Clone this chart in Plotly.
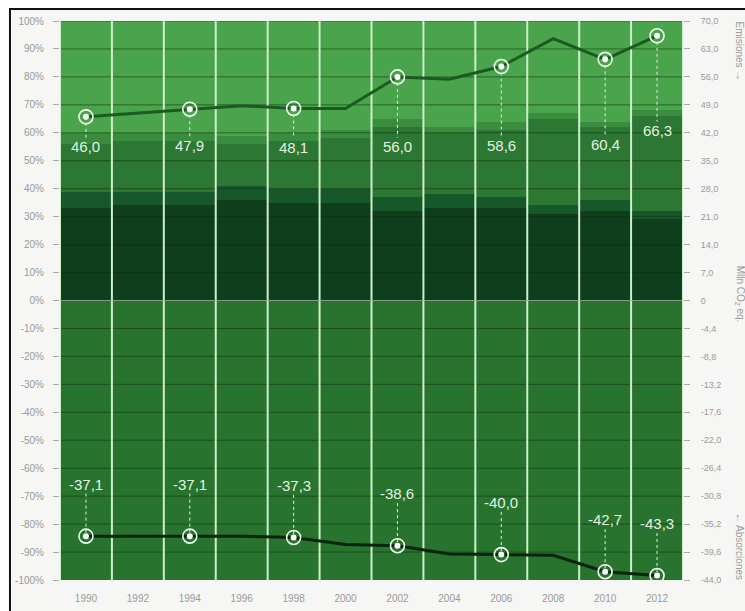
import plotly.graph_objects as go

# ---------------- data ----------------
YEARS = [1990, 1992, 1994, 1996, 1998, 2000, 2002, 2004, 2006, 2008, 2010, 2012]

# shares of emissions (percent, stacked bottom -> top)
SHARE_DARKEST = [33, 34, 34, 36, 35, 35, 32, 33, 33, 31, 32, 29]
SHARE_DARK    = [6, 5, 5, 5, 5, 5, 5, 5, 4, 3, 4, 3]
SHARE_MEDIUM  = [17, 18, 18, 15, 17, 18, 25, 22, 24, 31, 26, 34]
SHARE_MLIGHT  = [4, 3, 3, 3, 3, 3, 3, 2, 3, 2, 2, 2]
SHARE_LIGHT   = [40, 40, 40, 41, 40, 39, 35, 38, 36, 33, 36, 32]
ABSORB_SHARE  = [-100] * 12

# emissions / absorptions (Mlln CO2 eq.)
EMISSIONS   = [46.0, 46.9, 47.9, 48.8, 48.1, 48.1, 56.0, 55.4, 58.6, 65.6, 60.4, 66.3]
ABSORPTIONS = [-37.1, -37.1, -37.1, -37.1, -37.3, -38.4, -38.6, -39.9, -40.0, -40.1, -42.7, -43.3]

LABEL_YEARS = [1990, 1994, 1998, 2002, 2006, 2010, 2012]
EMI_LABELS  = ["46,0", "47,9", "48,1", "56,0", "58,6", "60,4", "66,3"]
ABS_LABELS  = ["-37,1", "-37,1", "-37,3", "-38,6", "-40,0", "-42,7", "-43,3"]

PCT_TOP = [0, 10, 20, 30, 40, 50, 60, 70, 80, 90, 100]
PCT_TOP_TXT = ["0%", "10%", "20%", "30%", "40%", "50%", "60%", "70%", "80%", "90%", "100%"]
PCT_BOT = [-100, -90, -80, -70, -60, -50, -40, -30, -20, -10]
PCT_BOT_TXT = ["-100%", "-90%", "-80%", "-70%", "-60%", "-50%", "-40%", "-30%", "-20%", "-10%"]
EMI_TICKS = [0, 7, 14, 21, 28, 35, 42, 49, 56, 63, 70]
EMI_TICK_TXT = ["0", "7,0", "14,0", "21,0", "28,0", "35,0", "42,0", "49,0", "56,0", "63,0", "70,0"]
ABS_TICKS = [-44, -39.6, -35.2, -30.8, -26.4, -22, -17.6, -13.2, -8.8, -4.4]
ABS_TICK_TXT = ["-44,0", "-39,6", "-35,2", "-30,8", "-26,4", "-22,0", "-17,6", "-13,2", "-8,8", "-4,4"]

# ---------------- style ----------------
C_DARKEST = "#0f3e1d"
C_DARK = "#17582a"
C_MEDIUM = "#2b7733"
C_MLIGHT = "#3a8c3e"
C_LIGHT = "#4aa44b"
C_NEG = "#28742f"
C_EMI_LINE = "#1d5a22"
C_ABS_LINE = "#0a240e"
LBL_COLOR = "#e4f2e2"
TICK_FONT = dict(family="Liberation Sans", size=10, color="#9a9a9a")
RTICK_FONT = dict(family="Liberation Sans", size=9, color="#9a9a9a")

fig = go.Figure()

for vals, col, name in [(SHARE_DARKEST, C_DARKEST, "s1"), (SHARE_DARK, C_DARK, "s2"),
                        (SHARE_MEDIUM, C_MEDIUM, "s3"), (SHARE_MLIGHT, C_MLIGHT, "s4"),
                        (SHARE_LIGHT, C_LIGHT, "s5")]:
    fig.add_trace(go.Bar(x=YEARS, y=vals, marker=dict(color=col, line=dict(width=0)),
                         width=2, name=name, xaxis="x", yaxis="y", hoverinfo="skip"))
fig.add_trace(go.Bar(x=YEARS, y=ABSORB_SHARE, marker=dict(color=C_NEG, line=dict(width=0)),
                     width=2, name="abs", xaxis="x", yaxis="y2", hoverinfo="skip"))

# gridlines (drawn above bars)
xmin, xmax = YEARS[0] - 1, YEARS[-1] + 1
for ticks, ax in [(PCT_TOP[1:], "y"), (PCT_BOT[1:], "y2")]:
    gx, gy = [], []
    for t in ticks:
        gx += [xmin, xmax, None]
        gy += [t, t, None]
    fig.add_trace(go.Scatter(x=gx, y=gy, mode="lines", xaxis="x", yaxis=ax,
                             line=dict(color="rgba(12,45,15,0.55)", width=1), hoverinfo="skip"))

# white vertical separators between columns
for ax, lo, hi in [("y", 0, 100), ("y2", -100, 0)]:
    vx, vy = [], []
    for k in range(len(YEARS) + 1):
        xx = YEARS[0] - 1 + 2 * k
        vx += [xx, xx, None]
        vy += [lo, hi, None]
    fig.add_trace(go.Scatter(x=vx, y=vy, mode="lines", xaxis="x", yaxis=ax,
                             line=dict(color="#cdeec8", width=2), hoverinfo="skip"))

# dotted leader lines
EMI_LBL_Y = [38.6, 38.9, 38.4, 38.6, 38.9, 39.1, 42.6]
ABS_LBL_Y = [v + 8.2 for v in [ABSORPTIONS[YEARS.index(y)] for y in LABEL_YEARS]]
dx, dy = [], []
for y, ly in zip(LABEL_YEARS, EMI_LBL_Y):
    dx += [y, y, None]
    dy += [EMISSIONS[YEARS.index(y)], ly + 2.2, None]
fig.add_trace(go.Scatter(x=dx, y=dy, mode="lines", xaxis="x", yaxis="y3",
                         line=dict(color="#dff0dc", width=1, dash="dot"), hoverinfo="skip"))
dx, dy = [], []
for y, ly in zip(LABEL_YEARS, ABS_LBL_Y):
    dx += [y, y, None]
    dy += [ly - 1.5, ABSORPTIONS[YEARS.index(y)], None]
fig.add_trace(go.Scatter(x=dx, y=dy, mode="lines", xaxis="x", yaxis="y4",
                         line=dict(color="#dff0dc", width=1, dash="dot"), hoverinfo="skip"))

# lines
fig.add_trace(go.Scatter(x=YEARS, y=EMISSIONS, mode="lines", xaxis="x", yaxis="y3",
                         line=dict(color=C_EMI_LINE, width=3), hoverinfo="skip"))
fig.add_trace(go.Scatter(x=YEARS, y=ABSORPTIONS, mode="lines", xaxis="x", yaxis="y4",
                         line=dict(color=C_ABS_LINE, width=3), hoverinfo="skip"))

# markers
emi_pts = [EMISSIONS[YEARS.index(y)] for y in LABEL_YEARS]
abs_pts = [ABSORPTIONS[YEARS.index(y)] for y in LABEL_YEARS]
for pts, ax in [(emi_pts, "y3"), (abs_pts, "y4")]:
    fig.add_trace(go.Scatter(x=LABEL_YEARS, y=pts, mode="markers", xaxis="x", yaxis=ax,
                             marker=dict(symbol="circle", size=14, color="rgba(0,0,0,0)",
                                         line=dict(color="#f2faf0", width=1.6)), hoverinfo="skip"))
    fig.add_trace(go.Scatter(x=LABEL_YEARS, y=pts, mode="markers", xaxis="x", yaxis=ax,
                             marker=dict(symbol="circle", size=6, color="#ffffff",
                                         line=dict(width=0)), hoverinfo="skip"))

annotations = []
for y, ly, t in zip(LABEL_YEARS, EMI_LBL_Y, EMI_LABELS):
    annotations.append(dict(x=y, y=ly, xref="x", yref="y3", text=t, showarrow=False,
                            font=dict(family="Liberation Sans", size=15, color=LBL_COLOR)))
for y, ly, t in zip(LABEL_YEARS, ABS_LBL_Y, ABS_LABELS):
    annotations.append(dict(x=y, y=ly, xref="x", yref="y4", text=t, showarrow=False,
                            font=dict(family="Liberation Sans", size=15, color=LBL_COLOR)))

side_font = dict(family="Liberation Sans", size=10, color="#9a9a9a")
annotations += [
    dict(x=1.091, y=0.946, xref="paper", yref="paper", text="Emisiones →", textangle=90,
         showarrow=False, font=side_font, xanchor="center", yanchor="middle"),
    dict(x=1.091, y=0.511, xref="paper", yref="paper", text="Mlln CO<sub>2</sub> eq.", textangle=90,
         showarrow=False, font=side_font, xanchor="center", yanchor="middle"),
    dict(x=1.091, y=0.06, xref="paper", yref="paper", text="← Absorciones", textangle=90,
         showarrow=False, font=side_font, xanchor="center", yanchor="middle"),
]

common_y = dict(showgrid=False, zeroline=False, ticks="outside", ticklen=6, tickcolor="#aaaaaa",
                showline=False, fixedrange=True, automargin=False)

fig.update_layout(
    width=745, height=611,
    margin=dict(l=60, r=62, t=21, b=31, autoexpand=False),
    paper_bgcolor="#ffffff",
    plot_bgcolor="#cdeec8",
    barmode="relative",
    bargap=0,
    showlegend=False,
    xaxis=dict(range=[xmin, xmax], tickvals=YEARS, ticktext=[str(y) for y in YEARS],
               showgrid=False, zeroline=False, ticks="", tickfont=TICK_FONT,
               anchor="y2", ticklabelstandoff=11, automargin=False),
    yaxis=dict(domain=[0.5, 1], range=[0, 100], tickvals=PCT_TOP, ticktext=PCT_TOP_TXT,
               anchor="x", ticklabelstandoff=7, tickfont=TICK_FONT, **common_y),
    yaxis2=dict(domain=[0, 0.5], range=[-100, 0], tickvals=PCT_BOT, ticktext=PCT_BOT_TXT,
                anchor="x", ticklabelstandoff=7, tickfont=TICK_FONT, **common_y),
    yaxis3=dict(overlaying="y", side="right", range=[0, 70], tickvals=EMI_TICKS,
                ticktext=EMI_TICK_TXT, anchor="x", ticklabelstandoff=9, tickfont=RTICK_FONT, **common_y),
    yaxis4=dict(overlaying="y2", side="right", range=[-44, 0], tickvals=ABS_TICKS,
                ticktext=ABS_TICK_TXT, anchor="x", ticklabelstandoff=9, tickfont=RTICK_FONT, **common_y),
    annotations=annotations,
    shapes=[dict(type="rect", xref="paper", yref="paper", x0=-0.0803, x1=1.3, y0=-0.2, y1=1.0215,
                 line=dict(color="#111111", width=2), fillcolor="#f6f6f5", layer="below")],
)

fig.write_html("out.html")
